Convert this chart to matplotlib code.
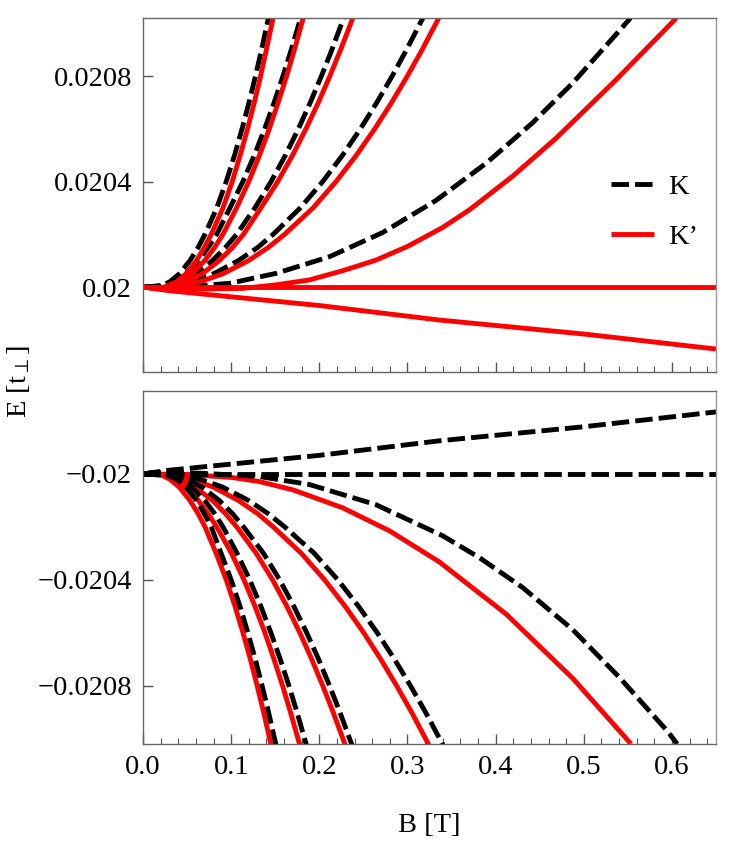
import matplotlib
matplotlib.use("Agg")
import matplotlib.pyplot as plt
from matplotlib.lines import Line2D
from matplotlib.ticker import MultipleLocator, FixedLocator, FixedFormatter

plt.rcParams['font.family'] = ['Liberation Serif', 'DejaVu Serif']
plt.rcParams['mathtext.fontset'] = 'stix'

# ---------------- data (B in T, E in units of t_perp) ----------------
# Top panel (E > 0): fan of levels, B values read at fixed energies
top_K_E = [0.02, 0.020005, 0.02002, 0.02005, 0.0201, 0.02015, 0.0202, 0.0203,
           0.0204, 0.0205, 0.0206, 0.0207, 0.0208, 0.0209, 0.02103]
top_K_B = [
    [0, 0.0212, 0.0304, 0.0411, 0.0532, 0.0625, 0.0703, 0.0837, 0.0944, 0.1039, 0.1124, 0.1203, 0.1276, 0.1345, 0.1429],
    [0, 0.0233, 0.0347, 0.0478, 0.0627, 0.0738, 0.0836, 0.0986, 0.1133, 0.1263, 0.1380, 0.1488, 0.1588, 0.1682, 0.1797],
    [0, 0.0269, 0.0418, 0.0591, 0.0787, 0.0935, 0.1063, 0.1269, 0.1453, 0.1616, 0.1763, 0.1898, 0.2024, 0.2143, 0.2287],
    [0, 0.0335, 0.0549, 0.0799, 0.1080, 0.1300, 0.1477, 0.1784, 0.2039, 0.2264, 0.2467, 0.2653, 0.2827, 0.2990, 0.3190],
]
top_Kp_E = [0.02, 0.019994, 0.02002, 0.02005, 0.0201, 0.02015, 0.0202, 0.0203,
            0.0204, 0.0205, 0.0206, 0.0207, 0.0208, 0.0209, 0.02103]
top_Kp_B = [
    [0, 0.02, 0.0382, 0.0487, 0.0606, 0.0695, 0.0774, 0.0907, 0.1012, 0.1103, 0.1186, 0.1263, 0.1334, 0.1400, 0.1482],
    [0, 0.02, 0.0424, 0.0554, 0.0700, 0.0812, 0.0907, 0.1061, 0.1200, 0.1322, 0.1433, 0.1534, 0.1629, 0.1718, 0.1826],
    [0, 0.02, 0.0497, 0.0670, 0.0864, 0.1015, 0.1140, 0.1337, 0.1529, 0.1697, 0.1849, 0.1990, 0.2120, 0.2242, 0.2392],
    [0, 0.02, 0.0645, 0.0904, 0.1195, 0.1420, 0.1607, 0.1929, 0.2190, 0.2421, 0.2629, 0.2821, 0.2999, 0.3167, 0.3371],
]

top_K5_B = [0, 0.05, 0.098, 0.151, 0.2114, 0.2718, 0.3322, 0.39, 0.442, 0.4873, 0.542, 0.553]
top_K5_E = [0.02, 0.020002, 0.020014, 0.020052, 0.0201148, 0.0202066, 0.020328, 0.0204713,
            0.020623, 0.020773, 0.020978, 0.02102]

top_Kp5_B = [0, 0.05, 0.113, 0.15, 0.1888, 0.2265, 0.2642, 0.30, 0.3398, 0.3703, 0.42, 0.4685, 0.5364, 0.5987, 0.605]
top_Kp5_E = [0.02, 0.019992, 0.019995, 0.020008, 0.020027, 0.020062, 0.020102, 0.020154, 0.0202256,
             0.0202927, 0.020422, 0.020564, 0.020785, 0.020998, 0.02102]

top_flat_B = [0, 0.65]
top_flat_E = [0.02, 0.02]

top_down_B = [0, 0.03, 0.1, 0.2, 0.3364, 0.5, 0.65]
top_down_E = [0.02, 0.019986, 0.019963, 0.01993, 0.019875, 0.019822, 0.019765]

# Bottom panel (E < 0)
bot_Kp_E = [-0.02, -0.020005, -0.02002, -0.02005, -0.0201, -0.02015, -0.0202, -0.0203,
            -0.0204, -0.0205, -0.0206, -0.0207, -0.0208, -0.0209, -0.02103]
bot_Kp_B = [
    [0, 0.0212, 0.0304, 0.0411, 0.0532, 0.0625, 0.0703, 0.0830, 0.0944, 0.1044, 0.1134, 0.1218, 0.1295, 0.1368, 0.1457],
    [0, 0.0233, 0.0347, 0.0478, 0.0627, 0.0738, 0.0836, 0.1004, 0.1145, 0.1270, 0.1383, 0.1486, 0.1583, 0.1673, 0.1784],
    [0, 0.0269, 0.0418, 0.0591, 0.0787, 0.0935, 0.1063, 0.1285, 0.1470, 0.1632, 0.1779, 0.1914, 0.2039, 0.2157, 0.2301],
    [0, 0.0335, 0.0549, 0.0799, 0.1080, 0.1300, 0.1477, 0.1796, 0.2060, 0.2293, 0.2504, 0.2697, 0.2877, 0.3047, 0.3253],
]
bot_K_E = [-0.02, -0.019994, -0.02002, -0.02005, -0.0201, -0.02015, -0.0202, -0.0203,
           -0.0204, -0.0205, -0.0206, -0.0207, -0.0208, -0.0209, -0.02103]
bot_K_B = [
    [0, 0.02, 0.0382, 0.0487, 0.0606, 0.0695, 0.0774, 0.0886, 0.1000, 0.1100, 0.1190, 0.1274, 0.1351, 0.1424, 0.1513],
    [0, 0.02, 0.0424, 0.0554, 0.0700, 0.0812, 0.0907, 0.1067, 0.1210, 0.1337, 0.1451, 0.1557, 0.1655, 0.1747, 0.1859],
    [0, 0.02, 0.0497, 0.0670, 0.0864, 0.1015, 0.1140, 0.1367, 0.1550, 0.1711, 0.1857, 0.1992, 0.2116, 0.2234, 0.2377],
    [0, 0.02, 0.0645, 0.0904, 0.1195, 0.1420, 0.1607, 0.1943, 0.2210, 0.2445, 0.2657, 0.2853, 0.3034, 0.3205, 0.3413],
]

bot_Kp5_B = [0, 0.05, 0.102, 0.132, 0.1699, 0.2265, 0.28, 0.3364, 0.4119, 0.4873, 0.546, 0.5535]
bot_Kp5_E = [-0.02, -0.020002, -0.020014, -0.020029, -0.0200601, -0.020128, -0.0202157, -0.020333,
             -0.0205293, -0.0207713, -0.020991, -0.02102]

bot_K5_B = [0, 0.03, 0.07, 0.132, 0.1888, 0.2642, 0.3398, 0.3817, 0.4307, 0.4873, 0.54, 0.595, 0.606]
bot_K5_E = [-0.02, -0.019994, -0.019998, -0.02001, -0.0200401, -0.0201163, -0.0202335, -0.0203165,
            -0.0204292, -0.0205877, -0.020767, -0.020972, -0.02102]

bot_flat_B = [0, 0.65]
bot_flat_E = [-0.02, -0.02]

bot_up_B = [0, 0.03, 0.1, 0.2, 0.3364, 0.5, 0.65]
bot_up_E = [-0.02, -0.019986, -0.019963, -0.01993, -0.019875, -0.019822, -0.019766]

top_yticks = [0.02, 0.0204, 0.0208]
top_ylabels = ["0.02", "0.0204", "0.0208"]
bot_yticks = [-0.02, -0.0204, -0.0208]
bot_ylabels = ["\u22120.02", "\u22120.0204", "\u22120.0208"]
xticks = [0.0, 0.1, 0.2, 0.3, 0.4, 0.5, 0.6]
xlabels = ["0.0", "0.1", "0.2", "0.3", "0.4", "0.5", "0.6"]

# ---------------- styling ----------------
W, H = 747, 867
fig = plt.figure(figsize=(W / 100, H / 100), dpi=100)
L, R = 143 / W, 716 / W
ax1 = fig.add_axes([L, 1 - 372 / H, R - L, (372 - 18) / H])
ax2 = fig.add_axes([L, 1 - 744 / H, R - L, (744 - 391) / H])

LW = 3.5
dash = (3.6, 1.25)
kst = dict(color='black', lw=LW, dashes=dash, solid_capstyle='butt', dash_capstyle='butt')
kpst = dict(color='#ff0000', lw=LW, solid_capstyle='butt')
FS = 20.5

# top panel: K first, then K' on top
for b in top_K_B:
    ax1.plot(b, top_K_E, **kst)
ax1.plot(top_K5_B, top_K5_E, **kst)
for b in top_Kp_B:
    ax1.plot(b, top_Kp_E, **kpst)
ax1.plot(top_Kp5_B, top_Kp5_E, **kpst)
ax1.plot(top_flat_B, top_flat_E, **kpst)
ax1.plot(top_down_B, top_down_E, **kpst)

# bottom panel: K' first, then K on top
for b in bot_Kp_B:
    ax2.plot(b, bot_Kp_E, **kpst)
ax2.plot(bot_Kp5_B, bot_Kp5_E, **kpst)
for b in bot_K_B:
    ax2.plot(b, bot_K_E, **kst)
ax2.plot(bot_K5_B, bot_K5_E, **kst)
ax2.plot(bot_flat_B, bot_flat_E, **kst)
ax2.plot(bot_up_B, bot_up_E, **kst)

ax1.set_ylim(0.019678, 0.02102)
ax2.set_ylim(-0.02102, -0.019687)

for ax, yt, yl in ((ax1, top_yticks, top_ylabels), (ax2, bot_yticks, bot_ylabels)):
    ax.set_xlim(0, 0.65)
    ax.xaxis.set_major_locator(FixedLocator(xticks))
    ax.xaxis.set_minor_locator(MultipleLocator(0.02))
    ax.yaxis.set_major_locator(FixedLocator(yt))
    ax.yaxis.set_major_formatter(FixedFormatter(yl))
    ax.tick_params(which='both', direction='in', top=False, right=False,
                   color='#555555', labelsize=FS, pad=8)
    ax.tick_params(which='major', length=7, width=1)
    ax.tick_params(which='minor', length=4, width=0.8)
    for s in ax.spines.values():
        s.set_color('#666666')
        s.set_linewidth(1.0)
    ax.spines['right'].set_color('#999999')

ax1.set_xticklabels([])
ax2.xaxis.set_major_formatter(FixedFormatter(xlabels))

fig.text(18 / W, 1 - 382 / H, r'E [t$_{\perp}$]', rotation=90, ha='center', va='center', fontsize=FS)
fig.text(429 / W, 1 - 826 / H, 'B [T]', ha='center', va='center', fontsize=FS)

handles = [Line2D([], [], **kst), Line2D([], [], **kpst)]
ax1.legend(handles, ['K', 'K\u2019'], loc='center left', bbox_to_anchor=(0.817, 0.452),
           frameon=False, fontsize=FS, handlelength=1.5, handletextpad=0.5,
           labelspacing=0.85, borderpad=0, borderaxespad=0)

fig.savefig('out.png', dpi=100)
